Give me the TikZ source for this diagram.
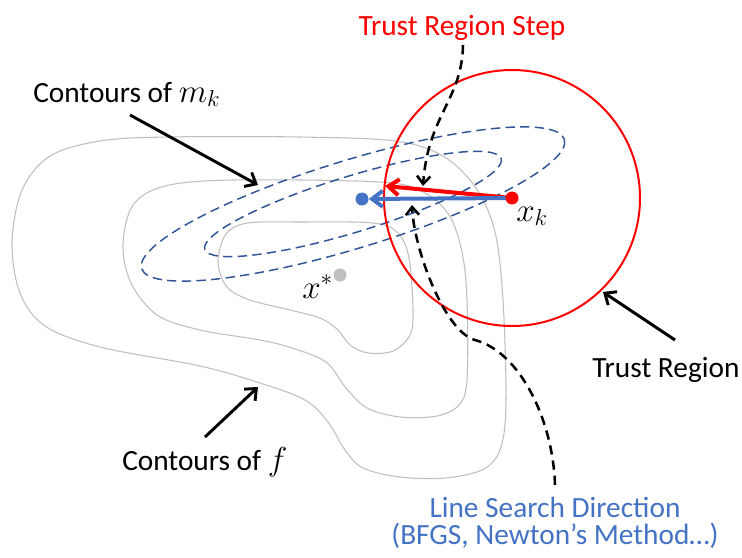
\documentclass[tikz,border=0pt]{standalone}
\usepackage{fontspec}
\setmainfont{Carlito}
\usetikzlibrary{arrows.meta}
\pgfdeclarelayer{edgelayer}
\pgfdeclarelayer{nodelayer}
\pgfsetlayers{edgelayer,nodelayer,main}
\definecolor{trred}{HTML}{FF0000}
\definecolor{lsblue}{HTML}{4472C4}
\definecolor{mkblue}{HTML}{2F5597}
\definecolor{fgray}{HTML}{BFBFBF}
\newcommand{\mth}[1]{{\fontsize{24}{28}\selectfont$#1$}}
\tikzstyle{none}=[inner sep=0pt]
\tikzstyle{label}=[inner sep=0pt, font=\fontsize{22}{26}\selectfont]
\tikzstyle{dot}=[circle, inner sep=0pt, minimum size=9.75pt]
\tikzstyle{contour}=[draw=fgray, line width=0.8pt]
\tikzstyle{model}=[draw=mkblue, line width=1.1pt, dash pattern=on 7pt off 4pt]
\tikzstyle{pointer}=[draw=black, line width=2.2pt, -{Straight Barb[length=7pt,width=12pt]}]
\tikzstyle{guide}=[draw=black, line width=1.9pt, dash pattern=on 7pt off 4.5pt, -{Straight Barb[length=6pt,width=10pt]}]
\tikzstyle{stepline}=[line width=3pt, -{Straight Barb[length=8pt,width=12pt]}]

\begin{document}
\begin{tikzpicture}[x=0.75pt, y=-0.75pt]
			\useasboundingbox (0,0) rectangle (742,557);
			\begin{pgfonlayer}{nodelayer}
			\node [style=label, anchor=base west] (0) at (33,102) {Contours of \mth{m_k}};
			\node [style=label, anchor=base west] (1) at (122,470) {Contours of \mth{f}};
			\node [style=label, anchor=base, text=trred] (2) at (462,35) {Trust Region Step};
			\node [style=label, anchor=base west] (3) at (592,377) {Trust Region};
			\node [style=label, anchor=base, text=lsblue] (4) at (555,517) {Line Search Direction};
			\node [style=label, anchor=base, text=lsblue] (5) at (555,544) {(BFGS, Newton’s Method…)};
			\node [style=dot, fill=fgray] (6) at (340,275) {};
			\node [style=dot, fill=lsblue] (7) at (362,199) {};
			\node [style=dot, fill=trred] (8) at (512,198) {};
			\node [style=none, anchor=base west] (9) at (516,221) {\mth{x_k}};
			\node [style=none, anchor=base west] (10) at (302,298) {\mth{x^*}};
			\node [style=none] (11) at (130,115) {};
			\node [style=none] (12) at (258,185) {};
			\node [style=none] (13) at (205,437) {};
			\node [style=none] (14) at (258,387) {};
			\node [style=none] (15) at (675,340) {};
			\node [style=none] (16) at (603,292) {};
			\node [style=none] (17) at (463,45) {};
			\node [style=none] (18) at (423,186) {};
			\node [style=none] (19) at (555,485) {};
			\node [style=none] (20) at (412,205) {};
			\node [style=none] (21) at (385,186) {};
			\end{pgfonlayer}
			\begin{pgfonlayer}{edgelayer}
			\draw [style=contour] plot [smooth cycle, tension=0.55] coordinates {(12,243) (22,190) (50,156) (100,141) (167,137) (300,137) (395,141) (443,156) (476,188) (495,232) (503,300) (506,400) (501,447) (484,469) (445,478) (400,477) (363,468) (345,450) (328,422) (305,400) (260,383) (200,366) (100,347) (45,326) (20,293)};
			\draw [style=contour] plot [smooth cycle, tension=0.55] coordinates {(123,245) (133,205) (165,186) (233,180) (380,182) (423,192) (449,215) (462,252) (467,300) (467,380) (459,405) (437,416) (400,417) (367,408) (346,388) (326,362) (292,348) (260,340) (200,330) (157,315) (131,283)};
			\draw [style=contour] plot [smooth cycle, tension=0.55] coordinates {(218,262) (226,234) (248,223) (300,222) (373,223) (398,233) (409,258) (413,310) (410,335) (393,351) (368,353) (350,345) (338,330) (320,318) (290,310) (250,300) (227,287)};
			\draw [style=model, rotate around={17:(353,204)}] (353,204) ellipse [x radius=221, y radius=44];
			\draw [style=model, rotate around={17:(353,204)}] (353,204) ellipse [x radius=155, y radius=28];
			\draw [draw=trred, line width=1.5pt] (8.center) circle [radius=128];
			\draw [style=guide] (17.center) .. controls (462,100) and (428,115) .. (18.center);
			\draw [style=guide] (19.center) .. controls (553,420) and (520,352) .. (475,340) .. controls (445,332) and (414,250) .. (20.center);
			\draw [style=stepline, draw=trred] (8.center) to (21.center);
			\draw [style=stepline, draw=lsblue] (8.center) to (7);
			\draw [style=pointer] (11.center) to (12.center);
			\draw [style=pointer] (13.center) to (14.center);
			\draw [style=pointer] (15.center) to (16.center);
			\end{pgfonlayer}
\end{tikzpicture}
\end{document}
